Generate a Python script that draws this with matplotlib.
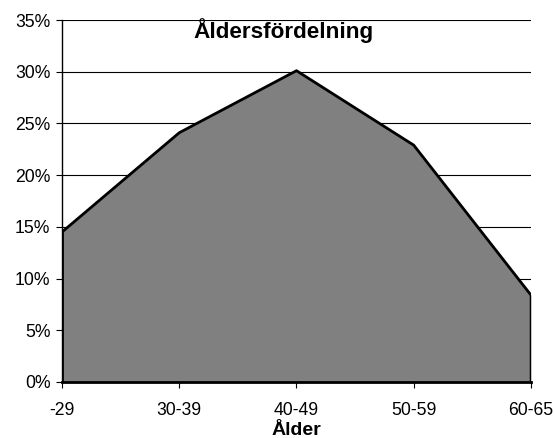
import matplotlib.pyplot as plt
from matplotlib.ticker import FuncFormatter

plt.rcParams['font.family'] = ['Liberation Sans', 'DejaVu Sans']

# age groups and share of people
groups = ['-29', '30-39', '40-49', '50-59', '60-65']
share = [14.5, 24.1, 30.1, 22.9, 8.4]

fig = plt.figure(figsize=(5.55, 4.38), dpi=100)
ax = fig.add_axes([0.1117, 0.1279, 0.845, 0.8264])

x = list(range(len(groups)))
ax.fill_between(x, share, 0, color='#808080', linewidth=0, zorder=2)
ax.plot(x, share, color='black', linewidth=2, zorder=3)
ax.plot([x[0], x[0]], [0, share[0]], color='black', linewidth=2, zorder=3)
ax.plot([x[-1], x[-1]], [0, share[-1]], color='black', linewidth=2.5, zorder=3)

ax.set_xlim(x[0], x[-1])
ax.set_ylim(0, 35)
ax.set_yticks(range(0, 36, 5))
ax.yaxis.set_major_formatter(FuncFormatter(lambda v, p: '%d%%' % v))
ax.set_xticks(x)
ax.set_xticklabels(groups)

ax.grid(axis='y', color='black', linewidth=0.8, zorder=1)
ax.set_axisbelow(True)
for s in ['top', 'right']:
    ax.spines[s].set_visible(False)
ax.spines['left'].set_linewidth(1)
ax.spines['bottom'].set_linewidth(2)
ax.spines['bottom'].set_zorder(4)
ax.tick_params(axis='both', labelsize=12.7, length=4.3, width=0.8, colors='black')
ax.tick_params(axis='x', pad=10)
ax.tick_params(axis='y', pad=4)

ax.text(0.472, 1.006, 'Åldersfördelning', transform=ax.transAxes, ha='center', va='top',
        fontsize=16.2, fontweight='bold', zorder=5)
ax.set_xlabel('Ålder', fontsize=14, fontweight='bold', labelpad=2)

fig.savefig('out.png', dpi=100)
